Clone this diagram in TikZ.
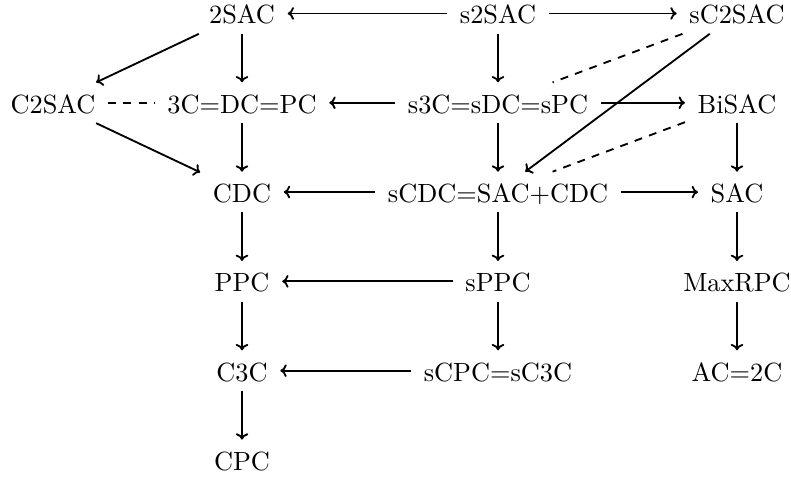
\documentclass[tikz,border=0pt]{standalone}
\usetikzlibrary{arrows.meta}
\begin{document}
\begin{tikzpicture}[x=0.38pt,y=-0.38pt, line width=0.7pt, >={To[length=2.4pt,width=4.8pt]},
  nd/.style={anchor=base, inner xsep=4.5pt, inner ysep=3.4pt, text height=8pt, text depth=0pt},
  ar/.style={->},
  dsh/.style={dash pattern=on 3pt off 2.8pt}]
\useasboundingbox (0,0) rectangle (791,478);
\node[nd] (2sac) at (242,24) {2SAC};
\node[nd] (s2sac) at (498,24) {s2SAC};
\node[nd] (sc2sac) at (737,24) {sC2SAC};
\node[nd] (c2sac) at (53,113.3) {C2SAC};
\node[nd] (3c) at (242,113.3) {3C=DC=PC};
\node[nd] (s3c) at (498,113.3) {s3C=sDC=sPC};
\node[nd] (bisac) at (737,113.3) {BiSAC};
\node[nd] (cdc) at (242,202.6) {CDC};
\node[nd] (scdc) at (498,202.6) {sCDC=SAC+CDC};
\node[nd] (sac) at (737,202.6) {SAC};
\node[nd] (ppc) at (242,291.9) {PPC};
\node[nd] (sppc) at (498,291.9) {sPPC};
\node[nd] (maxrpc) at (737,291.9) {MaxRPC};
\node[nd] (c3c) at (242,381.2) {C3C};
\node[nd] (scpc) at (498,381.2) {sCPC=sC3C};
\node[nd] (ac) at (737,381.2) {AC=2C};
\node[nd] (cpc) at (242,470.5) {CPC};
% row 1
\draw[ar] (s2sac) -- (2sac);
\draw[ar] (s2sac) -- (sc2sac);
\draw[ar] (2sac) -- (c2sac);
\draw[ar] (2sac) -- (3c);
\draw[ar] (s2sac) -- (s3c);
\draw[dsh] (sc2sac) -- (s3c);
\draw[ar] (sc2sac) -- (scdc);
% row 2
\draw[dsh] (c2sac) -- (3c);
\draw[ar] (s3c) -- (3c);
\draw[ar] (s3c) -- (bisac);
\draw[ar] (c2sac) -- (cdc);
\draw[ar] (3c) -- (cdc);
\draw[ar] (s3c) -- (scdc);
\draw[dsh] (bisac) -- (scdc);
\draw[ar] (bisac) -- (sac);
% row 3
\draw[ar] (scdc) -- (cdc);
\draw[ar] (scdc) -- (sac);
\draw[ar] (cdc) -- (ppc);
\draw[ar] (scdc) -- (sppc);
\draw[ar] (sac) -- (maxrpc);
% row 4
\draw[ar] (sppc) -- (ppc);
\draw[ar] (ppc) -- (c3c);
\draw[ar] (sppc) -- (scpc);
\draw[ar] (maxrpc) -- (ac);
% row 5
\draw[ar] (scpc) -- (c3c);
\draw[ar] (c3c) -- (cpc);
\end{tikzpicture}
\end{document}
